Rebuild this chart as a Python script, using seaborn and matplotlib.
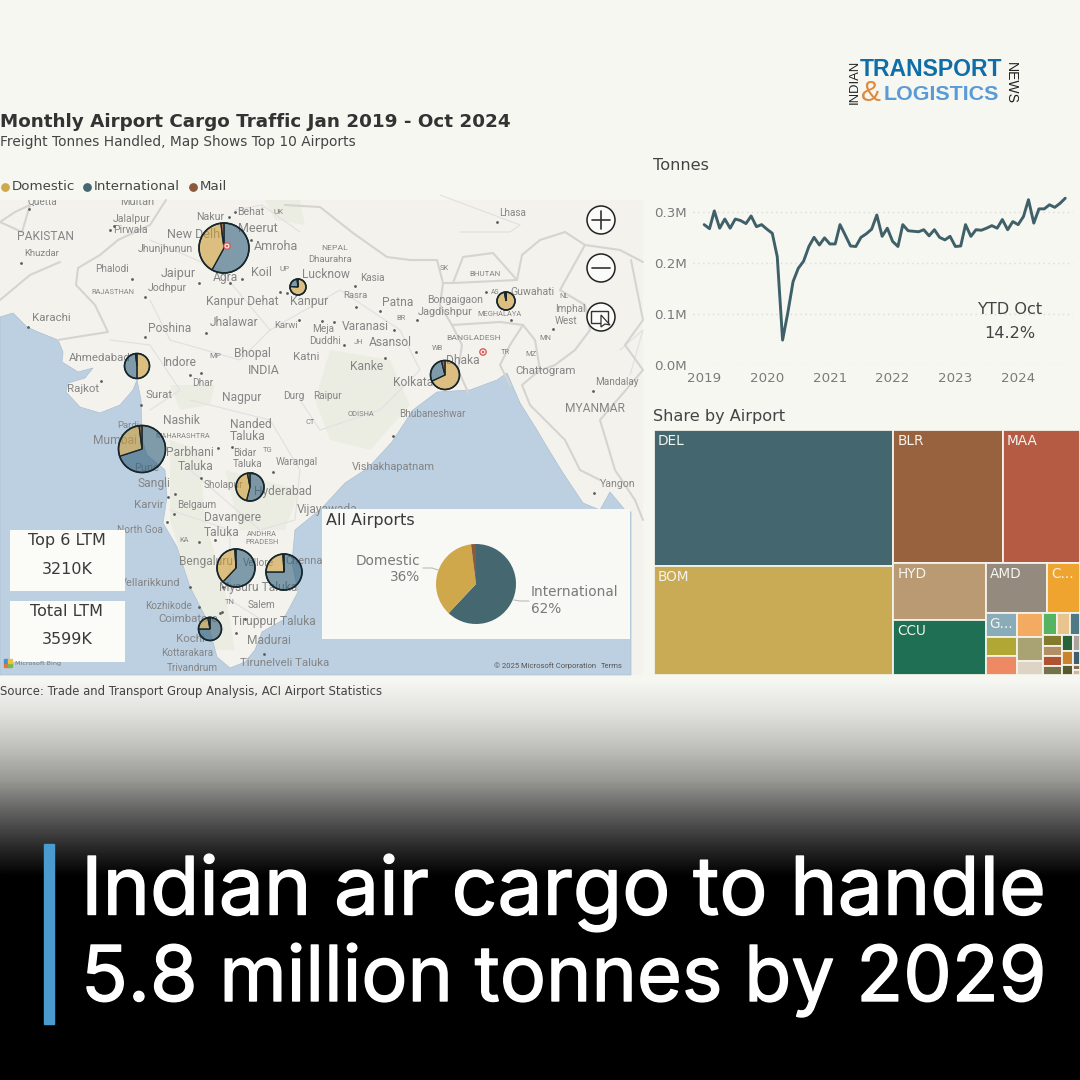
import numpy as np
import pandas as pd
import seaborn as sns
import matplotlib
matplotlib.use('Agg')
import matplotlib.pyplot as plt
import matplotlib.dates as mdates
import matplotlib.patheffects as pe
from matplotlib.colors import LinearSegmentedColormap, to_rgba
from matplotlib.patches import Circle, Polygon, Rectangle

# Monthly tonnes, Jan 2019 - Oct 2024 (millions)
tonnes_2019 = [.276, .268, .303, .269, .287, .269, .287, .284, .278, .293, .272, .276]
tonnes_2020 = [.267, .259, .213, .049, .102, .164, .190, .204, .233, .251, .236, .250]
tonnes_2021 = [.238, .238, .276, .255, .234, .233, .251, .258, .267, .295, .253, .269]
tonnes_2022 = [.243, .233, .276, .264, .263, .262, .266, .254, .266, .251, .246, .253]
tonnes_2023 = [.233, .234, .276, .253, .266, .265, .269, .274, .269, .286, .266, .282]
tonnes_2024 = [.276, .292, .325, .279, .307, .307, .315, .310, .318, .328]
year_ticks = [2019, 2020, 2021, 2022, 2023, 2024]
tonne_ticks = [0.0, 0.1, 0.2, 0.3]
tonne_labels = ['0.0M', '0.1M', '0.2M', '0.3M']

# Top 10 airports, shares in percent
airports = ['DEL', 'BOM', 'BLR', 'MAA', 'HYD', 'CCU', 'AMD', 'COK', 'LKO', 'GAU']
intl_share = [58, 70, 62, 75, 54, 28, 48, 75, 22, 0.5]
dom_share = [40, 28, 37, 24, 43, 68, 50, 22, 76, 97]
mail_share = [2, 2, 1, 1, 3, 4, 2, 3, 2, 2.5]
all_labels = ['International', 'Domestic', 'Mail']
all_share = [62, 36, 2]

# Treemap, thousand tonnes
share_labels = ['DEL', 'BOM', 'BLR', 'MAA', 'HYD', 'CCU', 'AMD', 'C...', 'G...']
share_values = [1116, 895, 497, 352, 182, 173, 107, 57, 25]
small_values_a = [21, 20, 21.5, 21.5, 12.5]
small_values_b = [10, 10, 7]
small_values_c = [7.2, 6.5, 6.5, 5.9, 6, 5.3, 3.8, 3.9, 3.4, 1.2, 1.2]

BG = '#f7f7f2'
DOM = '#cfa84c'
INTL = '#45676f'
MAIL = '#8b5a3c'
TXT = '#444444'
GREY = '#7a7a7a'

sns.set_theme(style='white')
plt.rcParams['font.family'] = ['DejaVu Sans']
fig = plt.figure(figsize=(10.8, 10.8), dpi=100, facecolor=BG)
ax = fig.add_axes([0, 0, 1, 1])
ax.set_facecolor(BG)


def Y(y):
    return 1080 - y


def px(size):
    return size * 0.72


# ---- bottom band
ramp = LinearSegmentedColormap.from_list('band', [(0, '#f6f6f2'), (0.17, '#e0e0dc'), (0.34, '#c0c0bc'), (0.508, '#989894'),
                                                  (0.675, '#606060'), (0.848, '#2a2a2a'), (1, '#000000')])
ax.imshow(np.linspace(0, 1, 200).reshape(-1, 1), cmap=ramp, aspect='auto', extent=(0, 1080, Y(877), Y(680)), zorder=1)
ax.add_patch(Rectangle((0, 0), 1080, Y(877), color='black', zorder=1))
ax.add_patch(Rectangle((44, Y(1024)), 10, 180, color='#4a9bd0', zorder=2))
head_fx = [pe.withStroke(linewidth=1.0, foreground='white')]
ax.text(81, Y(893), 'Indian air cargo to handle', fontsize=px(80.4), color='white', family='Inter',
        va='center', zorder=3, path_effects=head_fx)
ax.text(81, Y(980), '5.8 million tonnes by 2029', fontsize=px(77), color='white', family='Inter',
        va='center', zorder=3, path_effects=head_fx)

# ---- titles
ax.text(0, Y(122), 'Monthly Airport Cargo Traffic Jan 2019 - Oct 2024', fontsize=13.2, weight='bold', color='#333333', va='center')
ax.text(0, Y(142), 'Freight Tonnes Handled, Map Shows Top 10 Airports', fontsize=9.9, color=TXT, va='center')
ax.text(0, Y(692), 'Source: Trade and Transport Group Analysis, ACI Airport Statistics', fontsize=8.37, color=TXT, va='center', zorder=3)
ax.text(653, Y(166), 'Tonnes', fontsize=11.6, color=TXT, va='center')
ax.text(653, Y(416), 'Share by Airport', fontsize=11.6, color=TXT, va='center')

# legend
for x, name, col in [(5, 'Domestic', DOM), (87, 'International', INTL), (193, 'Mail', MAIL)]:
    ax.scatter([x], [Y(187)], s=28, color=col, zorder=3)
    ax.text(x + 7, Y(187), name, fontsize=9.6, color=TXT, va='center')

# logo
ax.text(860, Y(69), 'TRANSPORT', fontsize=px(23), weight='bold', family='Liberation Sans', color='#0f6ea8', va='center')
ax.text(884, Y(94), 'LOGISTICS', fontsize=px(21.5), weight='bold', family='Liberation Sans', color='#5a9bd6', va='center')
ax.text(861, Y(93), '&', fontsize=px(30), family='Liberation Sans', color='#e08a3c', va='center')
ax.text(855, Y(82), 'INDIAN', fontsize=px(13), rotation=90, color='#222222', family='Liberation Sans', ha='center', va='center')
ax.text(1011, Y(83), 'NEWS', fontsize=px(14), rotation=270, color='#222222', family='Liberation Sans', ha='center', va='center')

# ---- map backdrop
map_clip = Rectangle((0, Y(675)), 643, 475, facecolor='#f3f2ed', edgecolor='none', zorder=1)
ax.add_patch(map_clip)

sea = [(0, 317), (13, 313), (27, 327), (38, 332), (58, 340), (63, 352), (62, 362), (78, 372), (93, 368), (85, 378), (68, 383),
       (66, 392), (80, 407), (100, 413), (120, 405), (133, 390), (137, 380), (141, 400), (142, 440), (147, 455), (165, 470),
       (167, 497), (163, 523), (177, 547), (190, 587), (207, 620), (217, 657), (230, 668), (245, 662), (255, 650), (262, 632),
       (283, 620), (298, 592), (292, 562), (295, 530), (322, 508), (345, 483), (368, 468), (392, 442), (413, 410), (437, 392),
       (470, 390), (497, 380), (507, 373), (520, 403), (537, 430), (547, 447), (563, 473), (583, 503), (600, 510), (610, 492),
       (625, 510), (631, 512), (631, 675), (0, 675)]
ax.add_patch(Polygon([(x, Y(y)) for x, y in sea], facecolor='#bcd0e2', edgecolor='#aebfd0', lw=0.5, zorder=1.1))

greens = [[(170, 440), (200, 450), (205, 520), (225, 590), (235, 650), (215, 650), (190, 585), (170, 520)],
          [(330, 350), (390, 360), (410, 405), (370, 450), (330, 440), (315, 400)],
          [(265, 200), (300, 200), (305, 225), (275, 220)],
          [(170, 385), (215, 385), (210, 405), (180, 410)],
          [(225, 470), (300, 490), (285, 530), (240, 530)]]
for g in greens:
    ax.add_patch(Polygon([(x, Y(y)) for x, y in g], facecolor='#e6ead9', edgecolor='none', alpha=0.5, zorder=1.05))

borders = [[(166, 200), (150, 225), (118, 240), (100, 255), (78, 268), (76, 285), (95, 305), (108, 332), (70, 338), (58, 340)],
           [(0, 222), (15, 212), (30, 205), (22, 232), (0, 222)],
           [(60, 262), (30, 275), (0, 300)],
           [(285, 205), (320, 207), (353, 233), (387, 257), (410, 260), (437, 260), (443, 283), (453, 283), (517, 280), (522, 255),
            (540, 240), (565, 232)],
           [(453, 283), (463, 257), (493, 253), (517, 280)],
           [(443, 283), (440, 305), (452, 325), (500, 322), (523, 325), (510, 345), (500, 365), (510, 385)],
           [(452, 325), (462, 345), (458, 370), (468, 392)],
           [(523, 325), (535, 340), (540, 370), (522, 385), (530, 405), (545, 420), (565, 440), (580, 470), (600, 480)],
           [(565, 232), (585, 245), (620, 250), (643, 262)], [(585, 245), (560, 290), (585, 305), (590, 330), (575, 350), (555, 365), (535, 372)],
           [(631, 260), (643, 320), (625, 345), (643, 370), (600, 420), (615, 470), (635, 500), (643, 520)]]
for b in borders:
    arr = np.array(b, dtype=float)
    ax.plot(arr[:, 0], Y(arr[:, 1]), color='#d6d4d1', lw=1.5, zorder=1.2, solid_capstyle='round')

states = [[(150, 240), (220, 270), (270, 330), (240, 360), (170, 340), (150, 300)], [(110, 340), (150, 345), (180, 390), (150, 410)],
          [(270, 330), (340, 290), (400, 330), (420, 370), (380, 410), (320, 430), (300, 400)], [(190, 400), (270, 420), (300, 470), (295, 520), (260, 530), (190, 470)],
          [(170, 510), (230, 530), (230, 600), (262, 620)], [(440, 195), (480, 210), (520, 225), (510, 232), (460, 232)],
          [(235, 210), (262, 205), (300, 232)], [(620, 350), (643, 330), (630, 375)]]
for s in states:
    arr = np.array(s, dtype=float)
    ax.plot(arr[:, 0], Y(arr[:, 1]), color='#e2dfe2', lw=0.8, zorder=1.15)

# map labels: text, x, y, size in px
map_labels = [
    ('Quetta', 42, 202, 10), ('Multan', 137, 202, 11), ('Jalalpur', 132, 219, 10.5), ('Pirwala', 130, 230, 10.5), ('PAKISTAN', 46, 237, 12),
    ('Khuzdar', 42, 254, 9.5), ('Nakur', 210, 217, 10.5), ('Behat', 251, 212, 10.5), ('UK', 279, 212, 8), ('Meerut', 258, 228, 12.5),
    ('New Delhi', 195, 235, 12.5), ('Amroha', 276, 247, 12.5), ('Jhunjhunun', 165, 249, 10.5), ('Dhaurahra', 330, 259, 9.5), ('NEPAL', 335, 248, 8.5),
    ('Lucknow', 326, 275, 12), ('Phalodi', 112, 269, 10), ('Jaipur', 178, 274, 12.5), ('Agra', 225, 278, 12), ('Koil', 261, 273, 12.5),
    ('UP', 285, 269, 8), ('RAJASTHAN', 113, 292, 7.5), ('Jodhpur', 167, 288, 10.5), ('Kanpur Dehat', 242, 301, 12), ('Kanpur', 309, 302, 12),
    ('Karachi', 51, 318, 11.5), ('Poshina', 170, 329, 12), ('Jhalawar', 234, 323, 12), ('Karwi', 286, 326, 9.5), ('Meja', 323, 329, 10),
    ('Duddhi', 325, 341, 10), ('Ahmedabad', 100, 358, 11.5), ('Indore', 180, 363, 12), ('MP', 215, 356, 8), ('Bhopal', 252, 354, 12),
    ('Katni', 306, 357, 11.5), ('INDIA', 264, 370, 12.5), ('Rajkot', 83, 389, 11.5), ('Dhar', 203, 383, 10), ('Surat', 159, 395, 11.5),
    ('Nagpur', 242, 397, 12), ('Durg', 294, 396, 10), ('Raipur', 327, 396, 10), ('Nashik', 181, 421, 12), ('Nanded', 251, 425, 12),
    ('Taluka', 248, 437, 12), ('CT', 310, 422, 7.5), ('Pardi', 128, 426, 9.5), ('MAHARASHTRA', 183, 437, 7.5), ('Mumbai', 115, 441, 12),
    ('Parbhani', 190, 453, 12), ('Taluka', 196, 467, 12), ('Bidar', 245, 453, 10), ('TG', 268, 451, 7.5), ('Taluka', 248, 464, 10),
    ('Warangal', 297, 462, 10), ('Pune', 147, 468, 11), ('Sangli', 154, 484, 12), ('Sholapur', 223, 485, 10), ('Hyderabad', 283, 491, 12),
    ('Vijayawada', 327, 510, 12), ('Karvir', 149, 505, 11.5), ('Belgaum', 197, 505, 10), ('Davangere', 233, 518, 12), ('Taluka', 222, 532, 12),
    ('North Goa', 140, 530, 10), ('ANDHRA', 262, 535, 7.5), ('PRADESH', 262, 543, 7.5), ('KA', 184, 541, 7.5), ('Bengaluru', 206, 562, 12),
    ('Vellore', 258, 563, 10), ('Chennai', 305, 561, 11), ('Vellarikkund', 150, 583, 11), ('Mysuru Taluka', 258, 588, 12), ('Kozhikode', 169, 606, 10),
    ('TN', 230, 603, 7.5), ('Salem', 262, 605, 10), ('Coimbatore', 188, 619, 11.5), ('Tiruppur Taluka', 274, 621, 12), ('Kochi', 190, 639, 11.5),
    ('Madurai', 269, 641, 12), ('Kottarakara', 187, 653, 10), ('Tirunelveli Taluka', 285, 663, 11.5), ('Trivandrum', 192, 668, 10),
    ('Lhasa', 513, 213, 10), ('Kasia', 372, 278, 10), ('SK', 444, 269, 7.5), ('BHUTAN', 485, 274, 8), ('Rasra', 355, 296, 9.5),
    ('Patna', 398, 302, 12), ('Bongaigaon', 455, 300, 10.5), ('AS', 495, 293, 7), ('Guwahati', 532, 292, 10.5), ('NL', 564, 296, 7.5),
    ('Jagdishpur', 445, 312, 11), ('BR', 401, 318, 7.5), ('MEGHALAYA', 500, 315, 7.5), ('Imphal', 570, 309, 10), ('West', 566, 321, 10),
    ('Varanasi', 365, 326, 12), ('BANGLADESH', 474, 338, 8.5), ('MN', 545, 338, 7.5), ('Asansol', 390, 342, 12), ('JH', 358, 343, 7.5),
    ('WB', 437, 349, 7.5), ('TR', 505, 353, 7.5), ('MZ', 531, 355, 7.5), ('Dhaka', 463, 360, 12), ('Kanke', 367, 366, 12),
    ('Chattogram', 546, 371, 11.5), ('Kolkata', 413, 383, 12), ('Mandalay', 617, 382, 10), ('MYANMAR', 595, 409, 12), ('ODISHA', 361, 414, 7.5),
    ('Bhubaneshwar', 432, 414, 10), ('Vishakhapatnam', 393, 467, 11), ('Yangon', 618, 484, 10.5),
]
for name, x, y, size in map_labels:
    t = ax.text(x, Y(y), name, fontsize=px(size), family='Roboto', color='#858585', ha='center', va='center', zorder=1.5, clip_on=True)
    t.set_clip_path(map_clip)

dot_x = [29, 114, 110, 21, 132, 145, 199, 28, 145, 206, 190, 201, 101, 141, 230, 242, 251, 229, 235, 280, 287, 299, 322, 355, 356, 380, 417, 416,
         385, 394, 344, 232, 218, 252, 273, 201, 175, 168, 167, 174, 215, 199, 190, 223, 222, 245, 199, 220, 236, 264, 393, 497, 486, 553, 511, 593, 594, 334]
dot_y = [209, 226, 230, 263, 279, 297, 283, 327, 337, 333, 375, 373, 381, 405, 283, 279, 240, 217, 212, 292, 293, 320, 321, 286, 307, 311, 320, 352,
         358, 330, 345, 447, 448, 473, 472, 478, 494, 497, 522, 514, 540, 542, 587, 587, 612, 619, 607, 613, 633, 654, 436, 222, 292, 329, 320, 391, 493, 322]
ax.scatter(dot_x, Y(np.array(dot_y)), s=4, color='#5a5a5a', linewidths=0, zorder=1.6)

# red location rings
for rx, ry in [(227, 246), (483, 352)]:
    ax.add_patch(Circle((rx, Y(ry)), 3.2, facecolor='#f6e3df', edgecolor='#d9534f', lw=0.9, zorder=2.2))
    ax.add_patch(Circle((rx, Y(ry)), 1.1, facecolor='#d9534f', edgecolor='none', zorder=2.2))

# ---- airport pies
pie_x = [224, 142, 236, 284, 250, 445, 137, 210, 298, 506]
pie_y = [248, 449, 568, 572, 487, 375, 366, 629, 287, 301]
pie_r = [25, 23.5, 19, 18, 14, 14.5, 12.5, 11.5, 8, 9]
face = {'i': to_rgba('#325f7a', 0.6), 'd': to_rgba('#cd9d37', 0.6), 'm': to_rgba(MAIL, 0.9)}
for i in range(len(airports)):
    vals = sorted([(intl_share[i], 'i'), (dom_share[i], 'd'), (mail_share[i], 'm')], key=lambda v: -v[0])
    ax.pie([v[0] for v in vals], colors=[face[v[1]] for v in vals], center=(pie_x[i], Y(pie_y[i])), radius=pie_r[i],
           startangle=90, counterclock=False, frame=True,
           wedgeprops=dict(edgecolor='#16262c', linewidth=0.9, zorder=2))
    ax.add_patch(Circle((pie_x[i], Y(pie_y[i])), pie_r[i], facecolor='none', edgecolor='#16262c', lw=1.2, zorder=2.1))

# map controls
for cy in [220, 268, 317]:
    ax.add_patch(Circle((601, Y(cy)), 14, facecolor='#fbfbf9', edgecolor='#222222', lw=1.1, zorder=3))
ax.plot([592, 610], [Y(220), Y(220)], color='#333333', lw=1.2, zorder=4)
ax.plot([601, 601], [Y(211), Y(229)], color='#333333', lw=1.2, zorder=4)
ax.plot([592, 610], [Y(268), Y(268)], color='#333333', lw=1.2, zorder=4)
ax.add_patch(Rectangle((591, Y(323)), 17, 12, facecolor='none', edgecolor='#333333', lw=1.0, zorder=4))
ax.add_patch(Polygon([(601, Y(315)), (601, Y(327)), (605, Y(324)), (610, Y(325))], facecolor='white', edgecolor='#333333', lw=0.9, zorder=4))

# ---- KPI boxes
for top, head, val in [(530, 'Top 6 LTM', '3210K'), (601, 'Total LTM', '3599K')]:
    ax.add_patch(Rectangle((10, Y(top + 61)), 115, 61, facecolor='#fbfbf8', edgecolor='none', zorder=3))
    ax.text(67, Y(top + 10), head, fontsize=11.5, color='#3a3a3a', ha='center', va='center', zorder=4)
    ax.text(67, Y(top + 39), val, fontsize=11.5, color='#3a3a3a', ha='center', va='center', zorder=4)

ax.add_patch(Rectangle((4, Y(667)), 4, 4, color='#e8743b', zorder=4))
ax.add_patch(Rectangle((8, Y(667)), 4, 4, color='#79b94c', zorder=4))
ax.add_patch(Rectangle((4, Y(663)), 4, 4, color='#4a90c8', zorder=4))
ax.add_patch(Rectangle((8, Y(663)), 4, 4, color='#f0c040', zorder=4))
ax.text(15, Y(664), 'Microsoft Bing', fontsize=4.6, color='#777777', va='center', zorder=4)
ax.text(494, Y(666), '© 2025 Microsoft Corporation', fontsize=5.5, color='#555555', va='center', zorder=4, family='Roboto')
ax.text(601, Y(666), 'Terms', fontsize=5.5, color='#555555', va='center', zorder=4, family='Roboto')

# ---- all airports panel
ax.add_patch(Rectangle((322, Y(639)), 308, 130, facecolor='#f8f8f4', edgecolor='none', zorder=3))
ax.text(326, Y(520), 'All Airports', fontsize=11.5, color='#3a3a3a', va='center', zorder=4)
ax.pie(all_share, colors=[INTL, DOM, MAIL], center=(476, Y(584)), radius=40, startangle=90, counterclock=False, frame=True,
       wedgeprops=dict(linewidth=0, zorder=4))
ax.text(420, Y(561), 'Domestic', fontsize=9.8, color=GREY, ha='right', va='center', zorder=4)
ax.text(420, Y(577), '36%', fontsize=9.8, color=GREY, ha='right', va='center', zorder=4)
ax.text(531, Y(592), 'International', fontsize=9.8, color=GREY, va='center', zorder=4)
ax.text(531, Y(609), '62%', fontsize=9.8, color=GREY, va='center', zorder=4)
ax.plot([423, 432, 438], [Y(568), Y(568), Y(570)], color='#bbbbbb', lw=0.8, zorder=4)
ax.plot([514, 520, 529], [Y(600), Y(601), Y(601)], color='#bbbbbb', lw=0.8, zorder=4)

ax.set_xlim(0, 1080)
ax.set_ylim(0, 1080)
ax.set_aspect('auto')
ax.axis('off')


def px_axes(left, top, right, bottom):
    return fig.add_axes([left / 1080, 1 - bottom / 1080, (right - left) / 1080, (bottom - top) / 1080])


# ---- tonnes line
line_ax = px_axes(693, 187, 1073, 365)
line_ax.patch.set_alpha(0)
tonnes = tonnes_2019 + tonnes_2020 + tonnes_2021 + tonnes_2022 + tonnes_2023 + tonnes_2024
df = pd.DataFrame({'month': pd.date_range('2019-01-01', periods=len(tonnes), freq='MS'), 'tonnes': tonnes})
sns.lineplot(data=df, x='month', y='tonnes', ax=line_ax, color='#3f6068', lw=2.1)
line_ax.set_xlim(pd.Timestamp('2018-10-28'), pd.Timestamp('2024-11-15'))
line_ax.set_ylim(0, 0.35)
line_ax.set_xticks([pd.Timestamp(f'{y}-01-01') for y in year_ticks])
line_ax.xaxis.set_major_formatter(mdates.DateFormatter('%Y'))
line_ax.set_yticks(tonne_ticks)
line_ax.set_yticklabels(tonne_labels)
line_ax.tick_params(axis='x', length=0, labelsize=9.6, labelcolor=GREY, pad=5)
line_ax.tick_params(axis='y', length=0, labelsize=9.6, labelcolor=GREY, pad=4.5)
line_ax.grid(axis='y', color='#dcdcd8', lw=1, ls=(0, (1, 2.5)))
line_ax.set_axisbelow(True)
line_ax.set_xlabel('')
line_ax.set_ylabel('')
sns.despine(ax=line_ax, left=True, bottom=True)
fig.text(1010 / 1080, 1 - 310 / 1080, 'YTD Oct', fontsize=11.6, color=TXT, ha='center', va='center')
fig.text(1010 / 1080, 1 - 334 / 1080, '14.2%', fontsize=11.6, color=TXT, ha='center', va='center')

# ---- treemap
tree_ax = px_axes(654, 430, 1080, 675)
tree_ax.set_xlim(0, 1)
tree_ax.set_ylim(1, 0)
tree_ax.axis('off')

cells = share_values + small_values_a + small_values_b + small_values_c
cell_names = share_labels + [''] * (len(cells) - len(share_labels))
cell_colors = ['#44666e', '#c9ab55', '#98623f', '#b55a43', '#b99a73', '#1f6f54', '#948b7e', '#f0a430', '#8aabb8',
               '#b0a734', '#ed8a64', '#f3ab62', '#a9a272', '#ddd4c6', '#55b361', '#e8c58f', '#4f7a85',
               '#827a2c', '#b18e63', '#b0522f', '#75714d', '#28633a', '#c9842d', '#575a2a', '#a9a59c', '#3f5f6b', '#8a6a4a', '#c9b7a0']
# nesting of the cells, split direction flips at every level
tree = [[0, 1], [[2, 3], [[4, 5], [[6, 7], [[8, 9, 10], [11, 12, 13], [[14, 15, 16], [[17, 18, 19, 20], [21, 22, 23], [24, 25, 26, 27]]]]]]]]


def total(node):
    return cells[node] if isinstance(node, int) else sum(total(n) for n in node)


def layout(node, x, y, w, h, across):
    if isinstance(node, int):
        tree_ax.add_patch(Rectangle((x, y), w, h, facecolor=cell_colors[node], edgecolor='#f3f2ea', lw=1.3))
        if cell_names[node]:
            tree_ax.text(x + 4 / 426, y + 11 / 245, cell_names[node], fontsize=9.8, color='#f4f4ee', va='center')
        return
    pos = 0
    whole = total(node)
    for child in node:
        part = total(child) / whole
        if across:
            layout(child, x + pos * w, y, part * w, h, False)
        else:
            layout(child, x, y + pos * h, w, part * h, True)
        pos += part


layout(tree, 0, 0, 1, 1, True)

fig.savefig('out.png', dpi=100, facecolor=BG)
